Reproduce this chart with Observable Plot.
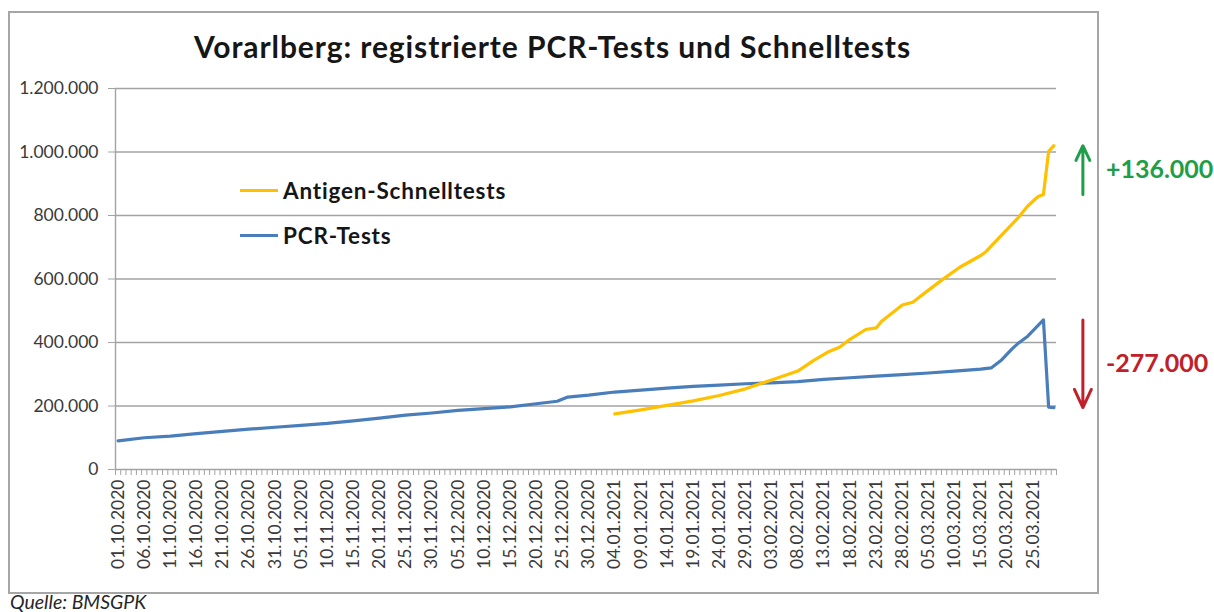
<!DOCTYPE html>
<html>
<head>
<meta charset="utf-8">
<script src="https://cdn.jsdelivr.net/npm/d3@7"></script>
<script src="https://cdn.jsdelivr.net/npm/@observablehq/plot@0.6"></script>
<style>
  body { margin: 0; background: #fff; }
  #wrap { position: relative; width: 1214px; height: 612px; overflow: hidden; font-family: Lato, "Open Sans", sans-serif; background:#fff; }
  #frame { position: absolute; left: 8px; top: 11px; width: 1087px; height: 579px; border: 2px solid #a6a6a6; }
  #title { position: absolute; left: 8px; width: 1089px; top: 28px; text-align: center; font-weight: bold; font-size: 30px; letter-spacing: 0.9px; color: #161616; white-space: nowrap; }
  .leg { position: absolute; left: 240px; font-weight: bold; font-size: 22.5px; letter-spacing: 0.8px; color: #161616; display: flex; align-items: center; white-space: nowrap; }
  .leg span.sw { display: inline-block; width: 38px; height: 3px; margin-right: 5px; }
  #source { position: absolute; left: 10px; top: 590px; font-style: italic; font-size: 19.5px; color: #262626; }
  #chart { position: absolute; left: 0; top: 0; }
</style>
</head>
<body>
<div id="wrap">
  <div id="frame"></div>
  <div id="chart"></div>
  <div id="title"></div>
  <div id="legend"></div>
  <div id="source"></div>
</div>
<script>
// ---- texts ----
const titleText = "Vorarlberg: registrierte PCR-Tests und Schnelltests";
const sourceText = "Quelle: BMSGPK";
const seriesNames = ["Antigen-Schnelltests", "PCR-Tests"];
const seriesColors = ["#ffc000", "#4a7ebb"];

// ---- axis ticks ----
const yTickValues = [0, 200000, 400000, 600000, 800000, 1000000, 1200000];
const xTickLabels = ["01.10.2020","06.10.2020","11.10.2020","16.10.2020","21.10.2020","26.10.2020","31.10.2020",
  "05.11.2020","10.11.2020","15.11.2020","20.11.2020","25.11.2020","30.11.2020","05.12.2020","10.12.2020",
  "15.12.2020","20.12.2020","25.12.2020","30.12.2020","04.01.2021","09.01.2021","14.01.2021","19.01.2021",
  "24.01.2021","29.01.2021","03.02.2021","08.02.2021","13.02.2021","18.02.2021","23.02.2021","28.02.2021",
  "05.03.2021","10.03.2021","15.03.2021","20.03.2021","25.03.2021"];
const firstCategory = "01.10.2020";
const lastCategory = "29.03.2021";

// ---- PCR-Tests (cumulative) ----
const pcrDates = ["01.10.2020","06.10.2020","11.10.2020","16.10.2020","21.10.2020","26.10.2020","31.10.2020",
  "05.11.2020","10.11.2020","15.11.2020","20.11.2020","25.11.2020","30.11.2020","05.12.2020","10.12.2020",
  "15.12.2020","20.12.2020","24.12.2020","26.12.2020","30.12.2020","04.01.2021","09.01.2021","14.01.2021",
  "19.01.2021","24.01.2021","29.01.2021","03.02.2021","08.02.2021","13.02.2021","18.02.2021","23.02.2021",
  "28.02.2021","05.03.2021","10.03.2021","15.03.2021","17.03.2021","19.03.2021","21.03.2021","22.03.2021",
  "24.03.2021","27.03.2021","28.03.2021","29.03.2021"];
const pcrValues = [90000,100000,105000,113000,120000,127000,133000,
  139000,145000,153000,162000,171000,178000,186000,192000,
  197000,207000,215000,228000,234000,244000,250000,256000,
  262000,266000,270000,273000,277000,284000,289000,294000,
  299000,304000,310000,316000,320000,345000,380000,395000,
  420000,471000,196000,195000];

// ---- Antigen-Schnelltests (cumulative) ----
const agDates = ["04.01.2021","09.01.2021","14.01.2021","19.01.2021","24.01.2021","29.01.2021","03.02.2021",
  "08.02.2021","11.02.2021","14.02.2021","16.02.2021","18.02.2021","21.02.2021","23.02.2021","24.02.2021",
  "28.02.2021","02.03.2021","05.03.2021","08.03.2021","11.03.2021","15.03.2021","16.03.2021","19.03.2021",
  "22.03.2021","24.03.2021","26.03.2021","27.03.2021","28.03.2021","29.03.2021"];
const agValues = [175000,188000,202000,216000,233000,254000,282000,
  310000,343000,372000,385000,410000,441000,446000,466000,
  518000,527000,565000,602000,637000,674000,686000,738000,
  790000,830000,860000,866000,1002000,1020000];

// ---- annotations: change on the last day ----
const annotFromDate = "27.03.2021";
const annotLabels = ["+136.000", "-277.000"];
const annotColors = ["#1e9e48", "#c0202a"];

// ---- build ----
const parse = d3.utcParse("%d.%m.%Y");
const fmtDE = d3.formatLocale({decimal: ",", thousands: ".", grouping: [3], currency: ["", "€"]}).format(",d");
const day = 864e5;

const pcr = pcrDates.map((d, i) => ({date: parse(d), value: pcrValues[i]}));
const ag = agDates.map((d, i) => ({date: parse(d), value: agValues[i]}));

const x0 = new Date(+parse(firstCategory) - day / 2);
const x1 = new Date(+parse(lastCategory) + day / 2);
const boundaries = d3.utcDays(x0, new Date(+x1 + 1)).map(d => new Date(+d + day / 2)).filter(d => d <= x1);
boundaries.unshift(x0);
const labelDates = xTickLabels.map(parse);

const valAt = (arr, ds) => arr.find(p => +p.date === +parse(ds)).value;
const lastDate = parse(lastCategory);
const annots = [
  {y1: valAt(ag, annotFromDate), y2: ag[ag.length - 1].value, label: annotLabels[0], color: annotColors[0]},
  {y1: valAt(pcr, annotFromDate), y2: pcr[pcr.length - 1].value, label: annotLabels[1], color: annotColors[1]}
].map(a => ({...a, x: lastDate, mid: (a.y1 + a.y2) / 2}));

const chart = Plot.plot({
  width: 1214,
  height: 612,
  marginLeft: 115,
  marginRight: 158,
  marginTop: 88,
  marginBottom: 143,
  style: {fontFamily: "Lato, 'Open Sans', sans-serif", background: "transparent", overflow: "visible"},
  x: {type: "utc", domain: [x0, x1]},
  y: {domain: [0, 1200000]},
  marks: [
    Plot.gridY(yTickValues, {stroke: "#a3a3a3", strokeOpacity: 1, strokeWidth: 1.4}),
    Plot.ruleX([x0], {stroke: "#a3a3a3", strokeWidth: 1.4}),
    Plot.axisY(yTickValues, {tickSize: 7, tickPadding: 10, tickFormat: fmtDE, fontSize: 17.5, fill: "#3a3a3a", stroke: "#a3a3a3", label: null}),
    Plot.axisX(boundaries, {tickSize: 6, tickFormat: () => "", stroke: "#a3a3a3", label: null}),
    Plot.axisX(labelDates, {tickSize: 0, tickRotate: -90, tickPadding: 10, tickFormat: d3.utcFormat("%d.%m.%Y"), fontSize: 17.5, fill: "#3a3a3a", label: null}),
    Plot.lineY(pcr, {x: "date", y: "value", stroke: seriesColors[1], strokeWidth: 3.2, strokeLinejoin: "round"}),
    Plot.lineY(ag, {x: "date", y: "value", stroke: seriesColors[0], strokeWidth: 3.2, strokeLinejoin: "round"}),
    Plot.arrow(annots, {x1: "x", x2: "x", y1: "y1", y2: "y2", stroke: "color", strokeWidth: 3, headLength: 10, headAngle: 50, dx: 29}),
    Plot.text(annots, {x: "x", y: "mid", text: "label", fill: "color", fontSize: 25, fontWeight: "bold", textAnchor: "start", dx: 52})
  ]
});
document.getElementById("chart").appendChild(chart);

document.getElementById("title").textContent = titleText;
document.getElementById("source").textContent = sourceText;
const legend = document.getElementById("legend");
const legendTops = [177, 222];
seriesNames.forEach((name, i) => {
  const row = document.createElement("div");
  row.className = "leg";
  row.style.top = legendTops[i] + "px";
  const sw = document.createElement("span");
  sw.className = "sw";
  sw.style.background = seriesColors[i];
  row.appendChild(sw);
  row.appendChild(document.createTextNode(name));
  legend.appendChild(row);
});
</script>
</body>
</html>
